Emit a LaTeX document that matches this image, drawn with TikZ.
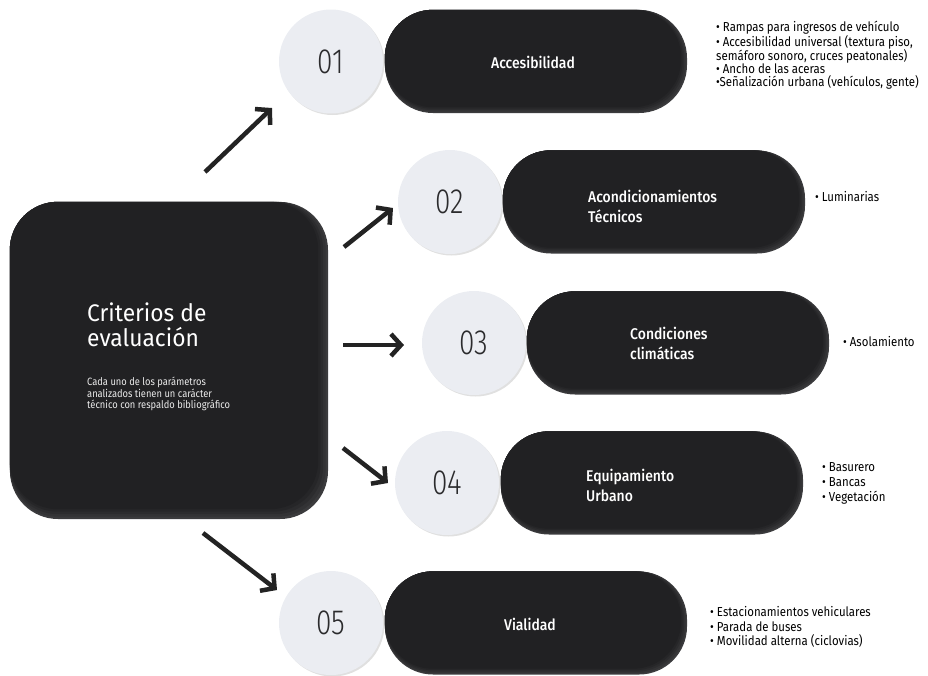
\documentclass[tikz,border=0pt]{standalone}
\usepackage{fontspec}
\usetikzlibrary{arrows.meta,calc,shadows}
\setmainfont{Fira Sans}
\IfFontExistsTF{FiraSans-Light.otf}
  {\newfontfamily\numfont{FiraSans-Light.otf}[FakeStretch=0.8]}
  {\IfFontExistsTF{Fira Sans Light}
    {\newfontfamily\numfont{Fira Sans Light}[FakeStretch=0.8]}
    {\newfontfamily\numfont{Fira Sans}[FakeStretch=0.8]}}
\IfFontExistsTF{FiraSans-Medium.otf}
  {\newfontfamily\pillfont{FiraSans-Medium.otf}[FakeStretch=0.9]}
  {\IfFontExistsTF{Fira Sans Medium}
    {\newfontfamily\pillfont{Fira Sans Medium}[FakeStretch=0.9]}
    {\newfontfamily\pillfont{Fira Sans}[FakeStretch=0.92]}}
\newfontfamily\headfont{Fira Sans}[FakeStretch=0.95]
\newfontfamily\condfont{Fira Sans}[FakeStretch=0.88]
\definecolor{boxdark}{HTML}{212123}
\definecolor{rimA}{HTML}{3B3B3D}
\definecolor{rimB}{HTML}{333335}
\definecolor{rimC}{HTML}{2C2C2E}
\definecolor{rimD}{HTML}{262628}
\definecolor{circfill}{HTML}{EBEDF2}
\definecolor{numcol}{HTML}{2B2B2D}
\definecolor{arrowcol}{HTML}{232323}
\tikzset{
  bigbox/.style={rectangle, rounded corners=48pt, fill=rimA, inner sep=0pt,
    minimum width=318pt, minimum height=317pt},
  pill/.style={rectangle, rounded corners=48pt, fill=rimA, inner sep=0pt,
    minimum width=302pt, minimum height=103pt},
  numcirc/.style={circle, fill=circfill, minimum size=104pt, inner sep=0pt,
    font=\numfont\fontsize{35}{35}\selectfont, text=numcol,
    drop shadow={shadow xshift=1.5pt, shadow yshift=-1.5pt, fill=black, opacity=0.12}},
  pilltext/.style={text=white, inner sep=0pt, align=left,
    font=\pillfont\fontsize{15.5}{20}\selectfont},
  bullets/.style={anchor=west, align=left, inner sep=0pt, text=black},
  arr/.style={draw=arrowcol, line width=4.5pt,
    -{Straight Barb[length=10pt,width=22pt]}}
}
\newcommand\shadelayers[2]{%
  \foreach \i/\c in {#2}{%
    \fill[\c, rounded corners=48pt] (#1.north west) rectangle ($(#1.south east)+(-\i,-\i)$);}}
\begin{document}
\begin{tikzpicture}[x=1pt, y=-1pt]
\useasboundingbox (0,0) rectangle (928,675);

% main box
\node[bigbox] (box) at (169,360.5) {};
\shadelayers{box}{2.5/rimB,5/rimC,7.5/rimD,10/boxdark}
\node[anchor=west, align=left, inner sep=0pt, text=white,
  font=\headfont\fontsize{24}{24.5}\selectfont] (title) at (87,325) {Criterios de\\evaluación};
\node[anchor=west, align=left, inner sep=0pt, text=white!92!black,
  font=\condfont\fontsize{10.6}{11.4}\selectfont] (sub) at (87,394)
  {Cada uno de los parámetros\\analizados tienen un carácter\\técnico con respaldo bibliográfico};

% row 1
\node[numcirc] (c1) at (331,61.5) {01};
\node[pill] (p1) at (536,61.5) {};
\shadelayers{p1}{1.5/rimB,3/rimC,4.5/rimD,6/boxdark}
\node[pilltext] (t1) at (533,62) {Accesibilidad};
\node[bullets, font=\condfont\fontsize{13}{12.6}\selectfont] (b1) at (716,55)
  {• Rampas para ingresos de vehículo\\• Accesibilidad universal (textura piso,\\semáforo sonoro, cruces peatonales)\\• Ancho de las aceras\\•Señalización urbana (vehículos, gente)};

% row 2
\node[numcirc] (c2) at (450,202) {02};
\node[pill] (p2) at (654,202) {};
\shadelayers{p2}{1.5/rimB,3/rimC,4.5/rimD,6/boxdark}
\node[pilltext, anchor=west] (t2) at (588,206) {Acondicionamientos\\Técnicos};
\node[bullets, font=\condfont\fontsize{13}{13}\selectfont] (b2) at (815,197) {• Luminarias};

% row 3
\node[numcirc] (c3) at (474,343) {03};
\node[pill] (p3) at (678,343) {};
\shadelayers{p3}{1.5/rimB,3/rimC,4.5/rimD,6/boxdark}
\node[pilltext, anchor=west] (t3) at (630,343) {Condiciones\\climáticas};
\node[bullets, font=\condfont\fontsize{13}{13}\selectfont] (b3) at (843,342) {• Asolamiento};

% row 4
\node[numcirc] (c4) at (447,483) {04};
\node[pill] (p4) at (652,483) {};
\shadelayers{p4}{1.5/rimB,3/rimC,4.5/rimD,6/boxdark}
\node[pilltext, anchor=west] (t4) at (586,485) {Equipamiento\\Urbano};
\node[bullets, font=\condfont\fontsize{13}{15}\selectfont] (b4) at (822,483)
  {• Basurero\\• Bancas\\• Vegetación};

% row 5
\node[numcirc] (c5) at (331,623) {05};
\node[pill] (p5) at (536,623) {};
\shadelayers{p5}{1.5/rimB,3/rimC,4.5/rimD,6/boxdark}
\node[pilltext] (t5) at (530,624) {Vialidad};
\node[bullets, font=\condfont\fontsize{13}{14.5}\selectfont] (b5) at (710,627)
  {• Estacionamientos vehiculares\\• Parada de buses\\• Movilidad alterna (ciclovias)};

% arrows
\coordinate (a1s) at (205,172); \coordinate (a1e) at (272,108);
\coordinate (a2s) at (344,247); \coordinate (a2e) at (393,208);
\coordinate (a3s) at (343,345); \coordinate (a3e) at (404,345);
\coordinate (a4s) at (343,448); \coordinate (a4e) at (388,483);
\coordinate (a5s) at (203,533); \coordinate (a5e) at (277,590);
\draw[arr] (a1s) -- (a1e);
\draw[arr] (a2s) -- (a2e);
\draw[arr] (a3s) -- (a3e);
\draw[arr] (a4s) -- (a4e);
\draw[arr] (a5s) -- (a5e);
\end{tikzpicture}
\end{document}
